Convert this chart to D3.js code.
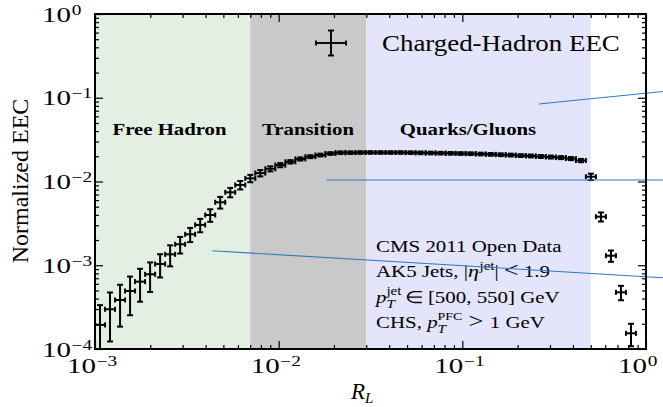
<!DOCTYPE html>
<html>
<head>
<meta charset="utf-8">
<script src="https://cdn.jsdelivr.net/npm/d3@7"></script>
<style>
  html, body { margin: 0; padding: 0; background: #fff; }
  svg { display: block; }
  text { font-family: "Liberation Serif", "Times New Roman", serif; fill: #000; }
</style>
</head>
<body>
<svg id="chart" width="663" height="407"></svg>
<script>
// Bin centres in R_L (log-spaced bins)
const rL = [
  0.001065, 0.001207, 0.001369, 0.001552, 0.001759, 0.001995, 0.002262, 0.002565, 0.002908, 0.003297,
  0.003738, 0.004239, 0.004806, 0.005449, 0.006178, 0.007005, 0.007943, 0.009006, 0.01021, 0.01158,
  0.01313, 0.01489, 0.01688, 0.01914, 0.02170, 0.02460, 0.02790, 0.03162, 0.03586, 0.04066,
  0.04610, 0.05227, 0.05926, 0.06719, 0.07619, 0.08638, 0.09793, 0.1110, 0.1259, 0.1427,
  0.1618, 0.1835, 0.2081, 0.2359, 0.2675, 0.3033, 0.3439, 0.3899, 0.4421, 0.5012,
  0.5683, 0.6443, 0.7305, 0.8283
];

// Normalized EEC per bin
const eec = [
  1.94e-4, 2.98e-4, 3.85e-4, 4.93e-4, 6.37e-4, 7.80e-4, 1.035e-3, 1.35e-3, 1.78e-3, 2.34e-3,
  3.03e-3, 3.98e-3, 5.65e-3, 7.43e-3, 9.08e-3, 1.09e-2, 1.26e-2, 1.42e-2, 1.57e-2, 1.72e-2,
  1.86e-2, 1.98e-2, 2.07e-2, 2.16e-2, 2.21e-2, 2.21e-2, 2.22e-2, 2.22e-2, 2.22e-2, 2.22e-2,
  2.22e-2, 2.21e-2, 2.20e-2, 2.19e-2, 2.18e-2, 2.17e-2, 2.16e-2, 2.15e-2, 2.13e-2, 2.11e-2,
  2.09e-2, 2.07e-2, 2.04e-2, 2.02e-2, 1.99e-2, 1.96e-2, 1.93e-2, 1.88e-2, 1.78e-2, 1.14e-2,
  3.80e-3, 1.30e-3, 4.75e-4, 1.54e-4
];

// Uncertainty per bin
const eecErr = [
  1.40e-4, 1.75e-4, 2.00e-4, 2.40e-4, 2.70e-4, 3.00e-4, 3.20e-4, 3.80e-4, 4.00e-4, 4.50e-4,
  5.50e-4, 6.80e-4, 9.00e-4, 9.50e-4, 1.05e-3, 1.10e-3, 1.10e-3, 1.00e-3, 9.00e-4, 8.00e-4,
  8.00e-4, 8.00e-4, 8.00e-4, 8.00e-4, 8.00e-4, 8.00e-4, 8.00e-4, 8.00e-4, 8.00e-4, 8.00e-4,
  8.00e-4, 8.00e-4, 8.00e-4, 8.00e-4, 8.00e-4, 8.00e-4, 8.00e-4, 8.00e-4, 8.00e-4, 8.00e-4,
  8.00e-4, 8.00e-4, 8.00e-4, 8.00e-4, 8.00e-4, 8.00e-4, 8.00e-4, 8.00e-4, 8.00e-4, 1.00e-3,
  4.70e-4, 2.00e-4, 9.30e-5, 4.60e-5
];

// Shaded regimes
const regionNames = ["Free Hadron", "Transition", "Quarks/Gluons"];
const regionEdges = [0.001, 0.007, 0.03, 0.5];
const regionColors = ["#e3efe3", "#c9c9c9", "#e4e4fa"];

// Axis decades
const xDecades = [-3, -2, -1, 0];
const yDecades = [-4, -3, -2, -1, 0];

// Thin blue guide lines (endpoints in data coordinates)
const guideX0 = [0.261, 0.0183, 0.00435];
const guideY0 = [0.0842, 0.0104, 0.00149];
const guideX1 = [1.236, 1.236, 1.236];
const guideY1 = [0.1187, 0.0104, 0.00071];

// Legend text pieces
const legendLines = ["CMS 2011 Open Data", "AK5 Jets, |", "|", "<", "1.9", "\u2208", "[500, 550] GeV", "CHS, ", ">", "1 GeV"];

const svg = d3.select("#chart");
const pL = 95, pR = 646, pT = 14, pB = 349;
const x = d3.scaleLog().domain([1e-3, 1]).range([pL, pR]);
const y = d3.scaleLog().domain([1e-4, 1]).range([pB, pT]);
const halfBin = Math.pow(10, 3 / 55 / 2);

svg.append("defs").append("clipPath").attr("id", "plotClip")
  .append("rect").attr("x", pL).attr("y", pT)
  .attr("width", pR - pL).attr("height", pB - pT);

// Regime bands
const bands = svg.append("g");
regionNames.forEach((n, i) => {
  bands.append("rect")
    .attr("x", x(regionEdges[i])).attr("y", pT)
    .attr("width", x(regionEdges[i + 1]) - x(regionEdges[i]))
    .attr("height", pB - pT)
    .attr("fill", regionColors[i]);
});

// Regime labels
const labelCenters = [169.5, 308, 468];
regionNames.forEach((n, i) => {
  svg.append("text")
    .attr("transform", `translate(${labelCenters[i]},135) scale(1.3,1)`)
    .attr("text-anchor", "middle")
    .attr("font-size", 16).attr("font-weight", "bold")
    .text(n);
});

// Data points with error bars
const pts = svg.append("g").attr("clip-path", "url(#plotClip)")
  .attr("stroke", "#000").attr("stroke-width", 2).attr("fill", "none");
rL.forEach((r, i) => {
  const cx = x(r), cy = y(eec[i]);
  const xa = x(r / halfBin), xb = x(r * halfBin);
  const ya = y(eec[i] + eecErr[i]);
  const lo = eec[i] - eecErr[i];
  const yb = lo > 0 ? y(lo) : pB + 20;
  const g = pts.append("g");
  g.append("line").attr("x1", xa).attr("x2", xb).attr("y1", cy).attr("y2", cy);
  g.append("line").attr("x1", cx).attr("x2", cx).attr("y1", ya).attr("y2", yb);
  g.append("line").attr("x1", cx - 3).attr("x2", cx + 3).attr("y1", ya).attr("y2", ya);
  g.append("line").attr("x1", cx - 3).attr("x2", cx + 3).attr("y1", yb).attr("y2", yb);
  g.append("line").attr("x1", xa).attr("x2", xa).attr("y1", cy - 2.5).attr("y2", cy + 2.5);
  g.append("line").attr("x1", xb).attr("x2", xb).attr("y1", cy - 2.5).attr("y2", cy + 2.5);
});

// Legend key and title
const keyX = 331, keyY = 43;
const key = svg.append("g").attr("stroke", "#000").attr("stroke-width", 1.9);
key.append("line").attr("x1", keyX - 15).attr("x2", keyX + 15).attr("y1", keyY).attr("y2", keyY);
key.append("line").attr("x1", keyX).attr("x2", keyX).attr("y1", keyY - 12.5).attr("y2", keyY + 12.5);
key.append("line").attr("x1", keyX - 3).attr("x2", keyX + 3).attr("y1", keyY - 12.5).attr("y2", keyY - 12.5);
key.append("line").attr("x1", keyX - 3).attr("x2", keyX + 3).attr("y1", keyY + 12.5).attr("y2", keyY + 12.5);
key.append("line").attr("x1", keyX - 15).attr("x2", keyX - 15).attr("y1", keyY - 2.5).attr("y2", keyY + 2.5);
key.append("line").attr("x1", keyX + 15).attr("x2", keyX + 15).attr("y1", keyY - 2.5).attr("y2", keyY + 2.5);
svg.append("text")
  .attr("transform", "translate(382,51) scale(1.17,1)")
  .attr("font-size", 23)
  .text("Charged-Hadron EEC");

// Info block
const info = svg.append("g").attr("font-size", 16.6);
const infoX = 376, infoBase = [252, 277, 303, 328], infoSX = 1.26;
const mk = (i) => info.append("text")
  .attr("transform", `translate(${infoX},${infoBase[i]}) scale(${infoSX},1)`);
mk(0).text(legendLines[0]);
{
  const t = mk(1);
  t.append("tspan").text(legendLines[1]);
  t.append("tspan").attr("font-style", "italic").attr("font-size", 17.5).text("η");
  t.append("tspan").attr("font-size", 12).attr("dx", 0.5).attr("dy", -7).text("jet");
  t.append("tspan").attr("dy", 7).text(legendLines[2]);
  t.append("tspan").attr("dx", 4).attr("font-size", 21).text(legendLines[3]);
  t.append("tspan").attr("dx", 4).text(legendLines[4]);
}
{
  const t = mk(2);
  t.append("tspan").attr("font-style", "italic").text("p");
  t.append("tspan").attr("font-style", "italic").attr("font-size", 12).attr("dy", 5).text("T");
  t.append("tspan").attr("font-size", 12).attr("dx", -6.7).attr("dy", -13).text("jet");
  t.append("tspan").attr("dx", 3).attr("dy", 8).text(legendLines[5]);
  t.append("tspan").attr("dx", 3).text(legendLines[6]);
}
{
  const t = mk(3);
  t.append("tspan").text(legendLines[7]);
  t.append("tspan").attr("font-style", "italic").text("p");
  t.append("tspan").attr("font-style", "italic").attr("font-size", 12).attr("dy", 5).text("T");
  t.append("tspan").attr("font-size", 11).attr("dx", -6.7).attr("dy", -13).text("PFC");
  t.append("tspan").attr("dx", 5).attr("dy", 8).attr("font-size", 21).text(legendLines[8]);
  t.append("tspan").attr("dx", 5).text(legendLines[9]);
}

// Guide lines
const guides = svg.append("g").attr("stroke", "#2b7bbf").attr("stroke-width", 1.1);
guideX0.forEach((g, i) => {
  guides.append("line")
    .attr("x1", x(guideX0[i])).attr("y1", y(guideY0[i]))
    .attr("x2", x(guideX1[i])).attr("y2", y(guideY1[i]));
});

// Ticks on all four sides, pointing inward
function ticksFor(decades) {
  const major = decades.map(d => Math.pow(10, d));
  const minor = [];
  for (let i = 0; i < decades.length - 1; i++)
    for (let m = 2; m <= 9; m++) minor.push(m * Math.pow(10, decades[i]));
  return { major, minor };
}
const xTicks = ticksFor(xDecades), yTicks = ticksFor(yDecades);
const axes = svg.append("g");
function drawAxis(gen, vals, len, tr) {
  const g = axes.append("g").attr("transform", tr)
    .call(gen.tickValues(vals).tickSizeInner(-len).tickSizeOuter(0).tickFormat(""));
  g.select(".domain").remove();
  g.selectAll(".tick line").attr("stroke", "#000").attr("stroke-width", 1.2);
}
[[xTicks.minor, 4], [xTicks.major, 8]].forEach(([v, l]) => {
  drawAxis(d3.axisBottom(x), v, l, `translate(0,${pB})`);
  drawAxis(d3.axisTop(x), v, l, `translate(0,${pT})`);
});
[[yTicks.minor, 4], [yTicks.major, 8]].forEach(([v, l]) => {
  drawAxis(d3.axisLeft(y), v, l, `translate(${pL},0)`);
  drawAxis(d3.axisRight(y), v, l, `translate(${pR},0)`);
});

// Frame
svg.append("rect").attr("x", pL).attr("y", pT)
  .attr("width", pR - pL).attr("height", pB - pT)
  .attr("fill", "none").attr("stroke", "#000").attr("stroke-width", 2);

// Power-of-ten labels
function powLabel(px, py, exp) {
  const g = svg.append("g").attr("transform", `translate(${px},${py}) scale(1.38,1)`);
  g.append("text").attr("text-anchor", "end").attr("font-size", 21).text("10");
  g.append("text").attr("x", 0.5).attr("y", -7).attr("font-size", 14)
    .text(exp === 0 ? "0" : "\u2212" + Math.abs(exp));
}
xDecades.forEach(d => powLabel(x(Math.pow(10, d)) + 1, 372.5, d));
yDecades.forEach(d => powLabel(71, y(Math.pow(10, d)) + 7.5, d));

// Axis titles
svg.append("text")
  .attr("transform", "translate(28,181) rotate(-90)")
  .attr("text-anchor", "middle").attr("font-size", 24)
  .text("Normalized EEC");
const xTitle = svg.append("text").attr("x", 351).attr("y", 399).attr("font-size", 23);
xTitle.append("tspan").attr("font-style", "italic").text("R");
xTitle.append("tspan").attr("font-style", "italic").attr("font-size", 15).attr("dy", 4).text("L");
</script>
</body>
</html>
